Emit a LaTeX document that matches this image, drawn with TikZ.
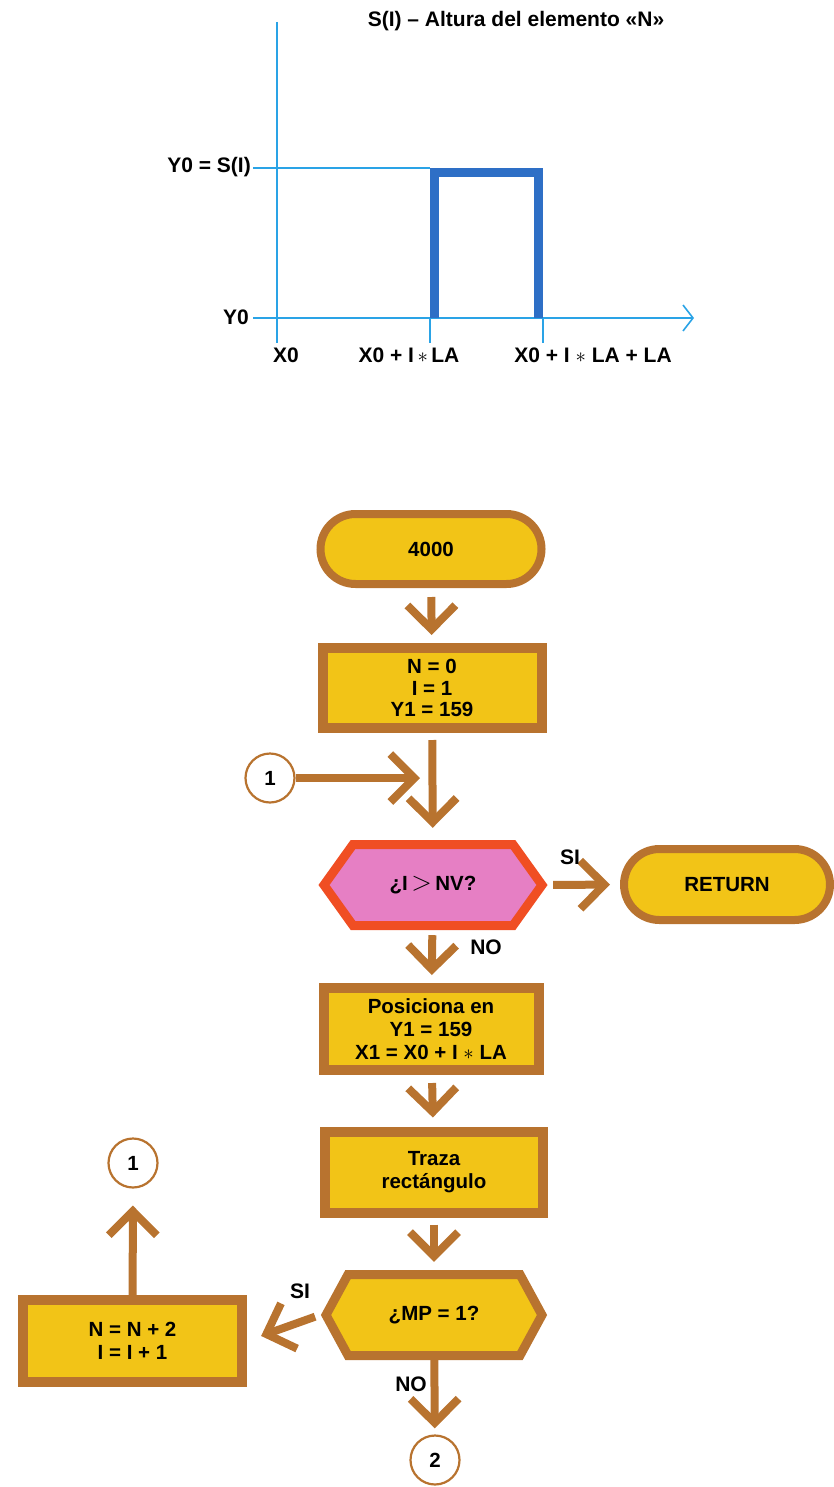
\documentclass[tikz,border=0pt]{standalone}
\usepackage{fontspec}
\setmainfont{Liberation Sans}
\usetikzlibrary{arrows.meta,shapes.misc}
\definecolor{fillY}{HTML}{F2C417}
\definecolor{brd}{HTML}{B8732F}
\definecolor{pinkF}{HTML}{E67FC4}
\definecolor{redB}{HTML}{F04E23}
\definecolor{blueT}{HTML}{2AA3E6}
\definecolor{blueK}{HTML}{2E6FC6}
\begin{document}
\begin{tikzpicture}[x=1pt,y=-1pt,
  txt/.style={font=\fontsize{20.5}{23}\selectfont\bfseries, text=black, align=center, inner sep=0pt},
  lbl/.style={txt, font=\fontsize{21}{22}\selectfont\bfseries},
  term/.style={rounded rectangle, draw=brd, fill=fillY, line width=8pt, txt},
  proc/.style={rectangle, draw=brd, fill=fillY, line width=10pt, txt},
  conn/.style={circle, draw=brd, fill=white, line width=2.2pt, minimum size=49pt, inner sep=0pt, txt},
  arr/.style={draw=brd, line width=8pt, -{Straight Barb[length=24pt,width=48pt,sharp]}},
  thin/.style={draw=blueT, line width=1.6pt},
  hexq/.style={line width=9pt, line join=miter}
]
\useasboundingbox (0,0) rectangle (834,1487);

% ---------- top chart ----------
\draw[thin] (277,22) -- (277,343);
\draw[thin] (253,168) -- (430,168);
\draw[thin, -{Straight Barb[length=10pt,width=26pt]}] (253,318) -- (694,318);
\draw[thin] (430,318) -- (430,343);
\draw[thin] (543,318) -- (543,343);
\draw[blueK, line width=9pt, line join=miter] (434,318) -- (434,172.5) -- (538.5,172.5) -- (538.5,318);

\node[lbl] (title) at (516,21) {S(I) – Altura del elemento «N»};
\node[lbl, anchor=east] (ys) at (251,167) {Y0 = S(I)};
\node[lbl, anchor=east] (y0) at (249,317) {Y0};
\node[lbl] (x0) at (286,355) {X0};
\node[lbl] (x1) at (409,355) {X0 + I$\,\ast\,$LA};
\node[lbl] (x2) at (593,355) {X0 + I $\ast$ LA + LA};

% ---------- flowchart ----------
\node[term, minimum width=221pt, minimum height=70pt] (start) at (431,549) {4000};
\node[proc, minimum width=219pt, minimum height=80pt, font=\fontsize{20.5}{21.5}\selectfont\bfseries] (init) at (432,688) {N = 0\\I = 1\\Y1 = 159};
\node[conn] (c1) at (270,778) {1};
\coordinate (j) at (432,778);

\node[txt, minimum width=230pt, minimum height=90pt] (q1) at (433,885) {};
\draw[hexq, draw=redB, fill=pinkF] (324,885) -- (353,844.5) -- (513,844.5) -- (542,885) -- (513,925.5) -- (353,925.5) -- cycle;
\node[txt] at (q1) {¿I\,\scalebox{1.3}{$>$}\,NV?};

\node[term, minimum width=206pt, minimum height=71pt] (ret) at (727,884.5) {RETURN};

\node[proc, minimum width=215pt, minimum height=82pt] (pos) at (431,1029) {Posiciona en\\Y1 = 159\\X1 = X0 + I $\ast$ LA};
\node[proc, minimum width=218pt, minimum height=81pt] (trz) at (434,1172) {Traza\\rectángulo};

\node[txt, minimum width=228pt, minimum height=90pt] (q2) at (434,1315) {};
\draw[hexq, draw=brd, fill=fillY] (326,1315) -- (348,1274.5) -- (520,1274.5) -- (542,1315) -- (520,1355.5) -- (348,1355.5) -- cycle;
\node[txt] at (q2) {¿MP = 1?};

\node[proc, minimum width=219pt, minimum height=82pt] (upd) at (132.5,1341) {N = N + 2\\I = I + 1};
\node[conn] (c1b) at (133,1163) {1};
\node[conn] (c2) at (435,1460) {2};

% connectors
\draw[arr, shorten <=9pt, shorten >=8pt] (start) -- (init);
\draw[arr, shorten <=7pt, shorten >=12pt] (init) -- (q1);
\draw[arr, shorten >=12pt] (c1) -- (j);
\draw[arr, shorten <=5pt, shorten >=10pt] (q1.east) -- (ret.west);
\draw[arr, shorten <=5pt, shorten >=8pt] (q1) -- (pos);
\draw[arr, shorten <=8pt, shorten >=9pt] (pos) -- (trz);
\draw[arr, shorten <=7pt, shorten >=8pt] (trz) -- (q2);
\draw[arr, shorten <=5pt, shorten >=15pt] (q2.west) -- (upd.east);
\draw[arr, shorten >=17pt] (upd) -- (c1b);
\draw[arr, shorten >=6pt] (q2) -- (c2);

\node[lbl] (si1) at (570,857) {SI};
\node[lbl] (no1) at (486,947) {NO};
\node[lbl] (si2) at (300,1291) {SI};
\node[lbl] (no2) at (411,1384) {NO};
\end{tikzpicture}
\end{document}
